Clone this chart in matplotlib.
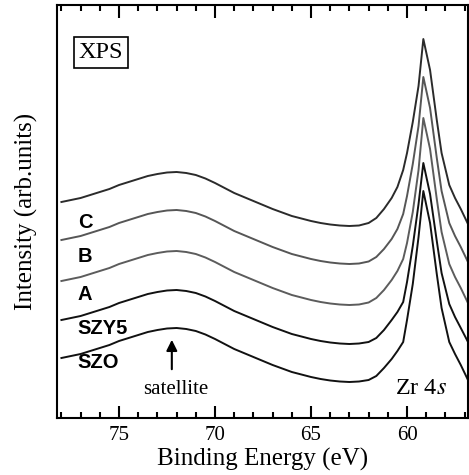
import matplotlib
matplotlib.use("Agg")
import matplotlib.pyplot as plt
from matplotlib.ticker import MultipleLocator

plt.rcParams.update({
    'mathtext.fontset': 'stix',
    'xtick.direction': 'in',
    'xtick.top': True,
    'xtick.bottom': True,
    'xtick.major.size': 9,
    'xtick.minor.size': 4.5,
    'xtick.major.width': 1.5,
    'xtick.minor.width': 1.5,
    'xtick.color': 'black',
    'xtick.major.pad': 6,
    'xtick.labelsize': 15,
    'axes.linewidth': 1.5,
})

# Binding energy (eV)
energy = [78.0, 77.5, 77.0, 76.5, 76.0, 75.5, 75.0, 74.5, 74.0, 73.5, 73.0, 72.5,
          72.0, 71.5, 71.0, 70.5, 70.0, 69.5, 69.0, 68.5, 68.0, 67.5, 67.0, 66.5,
          66.0, 65.5, 65.0, 64.5, 64.0, 63.5, 63.0,
          62.5, 62.0, 61.6, 61.2, 60.8, 60.5, 60.2, 60.0, 59.7, 59.4, 59.15,
          58.8, 58.45, 58.2, 57.8, 57.5, 57.2, 56.85]

# Intensities (arb. units, stacked)
C = [216, 218, 220, 223, 226, 229, 233, 236, 239, 242, 244, 245.5, 246, 245, 243, 239.5,
     235, 230, 225, 221, 217, 213, 209, 205.5, 202, 199.5, 197, 195, 193.5, 192.5, 192,
     192.5, 195, 200, 209, 220, 231, 248, 265, 296, 332, 379,
     348, 298, 265, 233, 220, 209, 195]
B = [178, 180, 182, 185, 188, 191, 195, 198, 201, 204, 206, 207.5, 208, 207, 205, 201.5,
     197, 192, 187, 183, 179, 175, 171, 167.5, 164, 161.5, 159, 157, 155.5, 154.5, 154,
     154.5, 156.5, 161, 169, 179, 189, 204, 222, 254, 292, 341,
     310, 260, 227, 195, 182, 171, 157]
A = [137, 139, 141, 144, 147, 150, 154, 157, 160, 163, 165, 166.5, 167, 166, 164, 160.5,
     156, 151, 146, 142, 138, 134, 130, 126.5, 123, 120.5, 118, 116, 114.5, 113.5, 113,
     113.5, 115.5, 120, 128, 138, 147, 159, 175, 206, 248, 300,
     269, 219, 186, 154, 141, 130, 116]
SZY5 = [98, 100, 102, 105, 108, 111, 115, 118, 121, 124, 126, 127.5, 128, 127, 125, 121.5,
        117, 112, 107, 103, 99, 95, 91, 87.5, 84, 81.5, 79, 77, 75.5, 74.5, 74,
        74.5, 76, 80, 88, 98, 106, 116, 136, 172, 214, 255,
        224, 177, 145, 114, 101, 90, 77]
SZO = [60, 62, 64, 67, 70, 73, 77, 80, 83, 86, 88, 89.5, 90, 89, 87, 83.5,
       79, 74, 69, 65, 61, 57, 53, 49.5, 46, 43.5, 41, 39, 37.5, 36.5, 36,
       36.5, 38, 42, 50, 59, 67, 76, 98, 134, 181, 227,
       195, 144, 110, 76, 64, 53, 39]

series = [("C", C, "#2b2b2b", 196),
          ("B", B, "#565656", 161),
          ("A", A, "#5c5c5c", 124),
          ("SZY5", SZY5, "#111111", 90),
          ("SZO", SZO, "#111111", 55.5)]

fig = plt.figure(figsize=(4.69, 4.75), dpi=100)
ax = fig.add_axes([57 / 469, 57 / 475, 410.5 / 469, 413 / 475])

for name, vals, col, ylab in series:
    ax.plot(energy, vals, color=col, lw=1.4)
    ax.text(77.15, ylab, name, fontfamily='Liberation Sans', fontweight='bold',
            fontsize=14.5, ha='left', va='center', color='black')

ax.set_xlim(78.23, 56.85)
ax.set_ylim(0, 413)

ax.xaxis.set_major_locator(MultipleLocator(5))
ax.xaxis.set_minor_locator(MultipleLocator(1))
ax.set_yticks([])
for lab in ax.get_xticklabels():
    lab.set_fontfamily('Liberation Serif')

ax.set_xlabel('Binding Energy (eV)', fontfamily='Liberation Serif', fontsize=18, labelpad=2)
ax.set_ylabel('Intensity (arb.units)', fontfamily='Liberation Serif', fontsize=18, labelpad=14)

ax.text(0.107, 0.885, 'XPS', transform=ax.transAxes, fontfamily='Liberation Serif',
        fontsize=17.5, ha='center', va='center',
        bbox=dict(boxstyle='square,pad=0.2', fc='white', ec='black', lw=1.2))

ax.annotate('', xy=(72.25, 81), xytext=(72.25, 46),
            arrowprops=dict(arrowstyle='-|>', color='black', lw=1.5, mutation_scale=16))
ax.text(72.06, 29, 'satellite', fontfamily='Liberation Serif', fontsize=15,
        ha='center', va='center')
ax.text(59.27, 30, r'Zr 4$\mathit{s}$', fontfamily='Liberation Serif', fontsize=17.5,
        ha='center', va='center')

fig.savefig('out.png', dpi=100)
